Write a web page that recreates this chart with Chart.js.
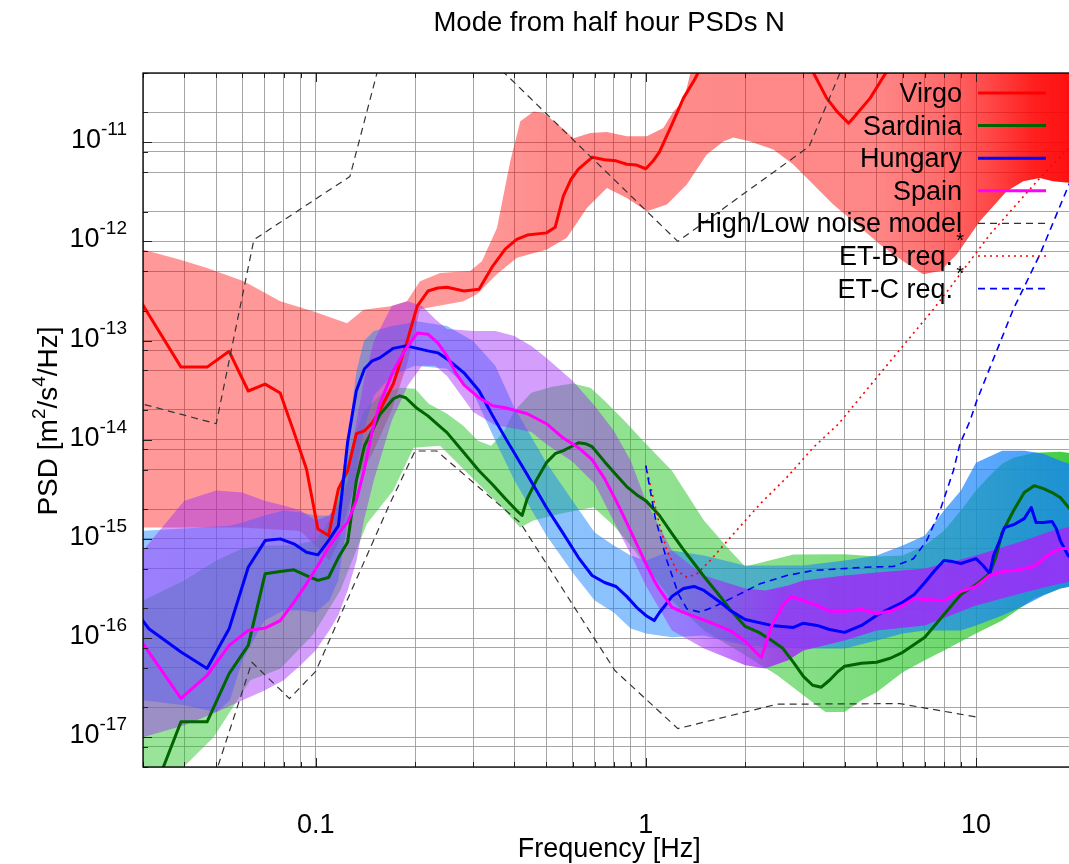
<!DOCTYPE html>
<html>
<head>
<meta charset="utf-8">
<title>Mode from half hour PSDs N</title>
<script src="https://cdn.jsdelivr.net/npm/chart.js@4.4.0/dist/chart.umd.min.js"></script>
<style>
  html, body { margin: 0; padding: 0; background: #ffffff; overflow: hidden; }
  #wrap { width: 1085px; height: 864px; }
</style>
</head>
<body>
<div id="wrap"><canvas id="psd" width="1085" height="864"></canvas></div>
<script>
// ---- axis ranges and tick labels ----
const X_MIN = 0.03, X_MAX = 20;
const Y_MIN = 5e-18, Y_MAX = 5e-11;
const xTickLabels = [0.1, 1, 10];
const yTickPowers = [-17, -16, -15, -14, -13, -12, -11];
const yGridMantissas = [1, 2, 5, 8];

// ---- Virgo ----
const virgoFreq = [0.0234, 0.03125, 0.0391, 0.0469, 0.0547, 0.0625, 0.0703, 0.0781, 0.0859, 0.0938, 0.1016, 0.1094, 0.1172, 0.125, 0.1328, 0.1406, 0.1484, 0.1563, 0.1719, 0.1875, 0.2031, 0.2188, 0.2344, 0.25, 0.2813, 0.3125, 0.3438, 0.375, 0.4063, 0.4375, 0.5, 0.5313, 0.5625, 0.5938, 0.625, 0.6875, 0.75, 0.8125, 0.875, 0.9375, 1.0, 1.05, 1.1, 1.2, 1.3, 1.4, 1.5, 1.8, 2.5, 3.22, 3.53, 3.79, 4.11, 4.25, 4.78, 5.3, 6.0, 10, 20];
const virgoMode = [8.8e-13, 1.82e-13, 5.4e-14, 5.4e-14, 7.8e-14, 3.1e-14, 3.64e-14, 2.96e-14, 1.2e-14, 5.07e-15, 1.26e-15, 1.08e-15, 3.19e-15, 4.87e-15, 1.15e-14, 1.23e-14, 1.48e-14, 1.96e-14, 3.67e-14, 8.84e-14, 2.23e-13, 3.16e-13, 3.39e-13, 3.45e-13, 3.16e-13, 3.3e-13, 5.64e-13, 8.36e-13, 1.05e-12, 1.16e-12, 1.22e-12, 1.39e-12, 2.86e-12, 4.24e-12, 5.35e-12, 7.06e-12, 6.67e-12, 6.5e-12, 6.01e-12, 5.9e-12, 5.41e-12, 6.43e-12, 8.0e-12, 1.52e-11, 2.79e-11, 4.2e-11, 6.5e-11, 1.0e-10, 1.2e-10, 5.0e-11, 2.79e-11, 2.05e-11, 1.56e-11, 1.76e-11, 2.79e-11, 4.86e-11, 8e-11, 1.5e-10, 1.5e-10];
const virgoHighFreq = [0.028, 0.0301, 0.0389, 0.0469, 0.0606, 0.0781, 0.0987, 0.1245, 0.1396, 0.1686, 0.1889, 0.207, 0.2383, 0.2937, 0.3188, 0.3541, 0.3885, 0.4168, 0.4573, 0.4904, 0.5502, 0.6037, 0.6784, 0.7619, 0.8759, 1.007, 1.13, 1.212, 1.3, 1.362, 1.5, 2, 20];
const virgoHigh = [8.5e-13, 8.24e-13, 6.53e-13, 5.39e-13, 3.96e-13, 2.49e-13, 1.97e-13, 1.5e-13, 2.05e-13, 2.22e-13, 2.49e-13, 3.96e-13, 4.8e-13, 5.02e-13, 6.33e-13, 1.37e-12, 6.43e-12, 1.63e-11, 2.05e-11, 1.97e-11, 1.45e-11, 1.1e-11, 1.24e-11, 1.27e-11, 1.15e-11, 1.15e-11, 1.39e-11, 2.05e-11, 2.59e-11, 4.86e-11, 7e-11, 8e-11, 8e-11];
const virgoLowFreq = [0.028, 0.06, 0.09, 0.102, 0.11, 0.117, 0.125, 0.133, 0.148, 0.17, 0.19, 0.207, 0.2805, 0.3078, 0.3538, 0.4071, 0.5017, 0.5764, 0.6631, 0.7624, 0.876, 1.007, 1.158, 1.331, 1.529, 1.717, 1.842, 2.069, 2.434, 2.797, 3.215, 3.695, 4.35, 5.12, 6.02, 6.92, 7.79, 8.74, 10.27, 12.38, 13.9, 15.6, 17.1, 19.1, 20];
const virgoLow = [1.3e-15, 1.3e-15, 1.2e-15, 8e-16, 6e-16, 9e-16, 2e-15, 4e-15, 7e-15, 2e-14, 6e-14, 2.07e-13, 2.49e-13, 2.93e-13, 4.66e-13, 6.84e-13, 8.31e-13, 1.09e-12, 2.18e-12, 3.46e-12, 2.75e-12, 2.02e-12, 2.36e-12, 3.75e-12, 7.52e-12, 1.02e-11, 1.12e-11, 1.02e-11, 8.44e-12, 5.96e-12, 3.75e-12, 2.36e-12, 1.49e-12, 9.33e-13, 6.33e-13, 4.66e-13, 5.02e-13, 7.4e-13, 1.6e-12, 3.21e-12, 4.05e-12, 4.37e-12, 4.05e-12, 3.9e-12, 3.9e-12];

// ---- Sardinia ----
const sardiniaFreq = [0.03125, 0.0391, 0.0469, 0.0547, 0.0625, 0.0703, 0.0781, 0.0859, 0.0938, 0.1016, 0.1094, 0.1172, 0.125, 0.1328, 0.1406, 0.1484, 0.1563, 0.1719, 0.1797, 0.1875, 0.2031, 0.2188, 0.2344, 0.25, 0.2813, 0.3125, 0.3438, 0.375, 0.4063, 0.4219, 0.4375, 0.4688, 0.5, 0.5313, 0.5625, 0.5938, 0.625, 0.6563, 0.6875, 0.75, 0.8125, 0.875, 0.9375, 1.0, 1.1, 1.2, 1.3, 1.4, 1.5, 1.7, 1.8, 2.0, 2.2, 2.4, 2.6, 2.8, 3.0, 3.2, 3.4, 3.6, 3.8, 4.0, 4.5, 5.0, 5.5, 6.0, 7.0, 8.0, 9.0, 10, 11, 11.5, 12, 13, 14, 15, 16, 17, 18, 19, 20];
const sardiniaMode = [2.1e-18, 1.43e-17, 1.43e-17, 4.38e-17, 8.44e-17, 4.44e-16, 4.69e-16, 4.87e-16, 4.27e-16, 3.81e-16, 4.08e-16, 6.48e-16, 9.24e-16, 3.87e-15, 8.7e-15, 1.23e-14, 1.78e-14, 2.59e-14, 2.77e-14, 2.65e-14, 2.06e-14, 1.74e-14, 1.42e-14, 1.18e-14, 7.4e-15, 4.87e-15, 3.52e-15, 2.55e-15, 1.93e-15, 1.72e-15, 2.55e-15, 4.05e-15, 5.87e-15, 7.23e-15, 7.75e-15, 8.5e-15, 9.33e-15, 9.11e-15, 8.5e-15, 6.01e-15, 4.44e-15, 3.37e-15, 2.79e-15, 2.43e-15, 1.72e-15, 1.13e-15, 7.8e-16, 5.64e-16, 4.17e-16, 2.5e-16, 1.94e-16, 1.31e-16, 1.14e-16, 9.48e-17, 7.87e-17, 5.69e-17, 4.11e-17, 3.34e-17, 3.19e-17, 3.75e-17, 4.52e-17, 5.19e-17, 5.56e-17, 5.69e-17, 6.25e-17, 7.18e-17, 1.02e-16, 1.73e-16, 2.75e-16, 3.46e-16, 4.47e-16, 6.63e-16, 1.16e-15, 1.93e-15, 2.93e-15, 3.44e-15, 3.21e-15, 2.93e-15, 2.61e-15, 2.11e-15, 1.72e-15];
const sardiniaHighFreq = [0.028, 0.03, 0.04, 0.05, 0.06, 0.07, 0.08, 0.09, 0.1, 0.11, 0.12, 0.13, 0.14, 0.16, 0.18, 0.2, 0.22, 0.25, 0.28, 0.31, 0.34, 0.37, 0.4, 0.45, 0.52, 0.6, 0.68, 0.75, 0.85, 1.0, 1.2, 1.5, 1.8, 2.0, 2.3, 2.8, 4, 5, 6, 7, 8, 9, 10, 11, 12, 13, 15, 18, 20];
const sardiniaHigh = [2.29e-16, 2.39e-16, 3.81e-16, 6.05e-16, 7.99e-16, 8.56e-16, 8.56e-16, 8.97e-16, 9.61e-16, 1.53e-15, 3.87e-15, 9.77e-15, 1.96e-14, 2.98e-14, 3.34e-14, 3.26e-14, 2.3e-14, 1.83e-14, 1.38e-14, 9.77e-15, 8.7e-15, 1.18e-14, 1.96e-14, 2.98e-14, 3.42e-14, 3.69e-14, 3.34e-14, 2.47e-14, 1.63e-14, 9.11e-15, 4.87e-15, 1.53e-15, 7.62e-16, 5.27e-16, 5.91e-16, 6.95e-16, 7.0e-16, 6.63e-16, 6.79e-16, 8.56e-16, 1.21e-15, 1.93e-15, 3.07e-15, 4.34e-15, 5.73e-15, 6.59e-15, 7.4e-15, 7.57e-15, 7.23e-15];
const sardiniaLowFreq = [0.028, 0.035, 0.0399, 0.0491, 0.0634, 0.0781, 0.0986, 0.1187, 0.143, 0.1718, 0.198, 0.238, 0.2938, 0.362, 0.4163, 0.4567, 0.55, 0.694, 0.8, 0.9, 1.0, 1.2, 1.5, 2.0, 2.5, 3.0, 3.5, 4.0, 4.5, 5, 6, 7, 8, 10, 12, 15, 18, 20];
const sardiniaLow = [7.25e-19, 3.21e-18, 5.02e-18, 1.0e-17, 3.74e-17, 4.91e-17, 1.1e-16, 3.02e-16, 1.42e-15, 3.07e-15, 8.31e-15, 8.7e-15, 4.34e-15, 2.17e-15, 1.3e-15, 1.53e-15, 1.79e-15, 2.09e-15, 1.36e-15, 8.56e-16, 5.39e-16, 2.39e-16, 1.19e-16, 6.69e-17, 4.2e-17, 2.64e-17, 1.79e-17, 1.79e-17, 2.35e-17, 2.83e-17, 4.51e-17, 5.95e-17, 7.5e-17, 1.11e-16, 1.5e-16, 2.5e-16, 3.16e-16, 3.39e-16];

// ---- Hungary ----
const hungaryFreq = [0.0234, 0.03125, 0.0391, 0.0469, 0.0547, 0.0625, 0.0703, 0.0781, 0.0859, 0.0938, 0.1016, 0.1094, 0.1172, 0.125, 0.1328, 0.1406, 0.1484, 0.1563, 0.1719, 0.1875, 0.2031, 0.2188, 0.2344, 0.25, 0.2813, 0.3125, 0.3438, 0.375, 0.4375, 0.5, 0.5625, 0.625, 0.6875, 0.75, 0.8125, 0.875, 0.9375, 1.0, 1.06, 1.1, 1.15, 1.2, 1.3, 1.4, 1.5, 1.7, 1.8, 2.0, 2.4, 2.8, 3.0, 3.3, 3.6, 4.0, 4.5, 5.0, 5.5, 6.0, 6.5, 7.0, 7.5, 8.0, 8.5, 9.0, 10, 10.5, 11, 11.3, 11.8, 12.2, 13, 14, 14.7, 15.2, 16, 17, 17.5, 18, 19, 20];
const hungaryMode = [4.4e-16, 1.24e-16, 7.23e-17, 4.93e-17, 1.24e-16, 5.18e-16, 9.61e-16, 1.0e-15, 8.91e-16, 7.33e-16, 6.9e-16, 9.61e-16, 1.36e-15, 9.5e-15, 3.12e-14, 5.19e-14, 6.25e-14, 6.69e-14, 8.35e-14, 8.84e-14, 8.35e-14, 7.87e-14, 7.52e-14, 6.54e-14, 4.73e-14, 3.12e-14, 1.74e-14, 1.05e-14, 4.44e-15, 2.07e-15, 1.13e-15, 6.48e-16, 4.27e-16, 3.63e-16, 3.31e-16, 2.63e-16, 2.04e-16, 1.69e-16, 1.5e-16, 1.81e-16, 2.18e-16, 2.63e-16, 3.16e-16, 3.31e-16, 3.02e-16, 2.23e-16, 1.9e-16, 1.54e-16, 1.34e-16, 1.28e-16, 1.41e-16, 1.34e-16, 1.22e-16, 1.14e-16, 1.34e-16, 1.69e-16, 1.99e-16, 2.29e-16, 2.75e-16, 3.63e-16, 4.8e-16, 6.05e-16, 5.9e-16, 5.64e-16, 6.33e-16, 5.39e-16, 4.47e-16, 6.79e-16, 9.61e-16, 1.3e-15, 1.39e-15, 1.6e-15, 2.07e-15, 1.46e-15, 1.46e-15, 1.5e-15, 1.27e-15, 9.61e-16, 6.79e-16, 6.05e-16];
const hungaryBandFreq = [0.028, 0.03, 0.04, 0.05, 0.055, 0.06, 0.07, 0.08, 0.09, 0.1, 0.11, 0.117, 0.125, 0.133, 0.14, 0.15, 0.17, 0.19, 0.2, 0.25, 0.3, 0.35, 0.4, 0.5, 0.6, 0.7, 0.8, 0.9, 1.0, 1.2, 1.5, 2, 3, 4, 5, 6, 7, 8, 9, 10, 12, 14, 16, 18, 20];
const hungaryHigh = [1.21e-15, 1.21e-15, 1.27e-15, 1.33e-15, 1.36e-15, 1.46e-15, 1.72e-15, 1.93e-15, 1.84e-15, 1.72e-15, 1.72e-15, 2.43e-15, 9.77e-15, 4.95e-14, 9.9e-14, 1.25e-13, 1.4e-13, 1.5e-13, 1.58e-13, 1.4e-13, 9.9e-14, 5.56e-14, 2.1e-14, 5.87e-15, 2.43e-15, 1.16e-15, 8.56e-16, 6.79e-16, 6.05e-16, 7.62e-16, 6.79e-16, 5.39e-16, 5.39e-16, 6.05e-16, 6.79e-16, 8.56e-16, 1.08e-15, 1.93e-15, 3.07e-15, 5.87e-15, 7.75e-15, 7.75e-15, 7.23e-15, 6.15e-15, 5.47e-15];
const hungaryLow = [2.35e-17, 2.35e-17, 2.1e-17, 1.78e-17, 2.35e-17, 5.95e-17, 1.5e-16, 1.9e-16, 1.9e-16, 1.81e-16, 2.39e-16, 3.81e-16, 1.53e-15, 4.87e-15, 1.23e-14, 2.77e-14, 4.41e-14, 5.19e-14, 5.56e-14, 5.19e-14, 2.98e-14, 9.77e-15, 3.87e-15, 1.08e-15, 4.58e-16, 2.39e-16, 1.81e-16, 1.25e-16, 1.11e-16, 1.02e-16, 1.06e-16, 8.42e-17, 7.86e-17, 7.86e-17, 9.46e-17, 1.11e-16, 1.19e-16, 1.19e-16, 1.19e-16, 1.34e-16, 1.69e-16, 2.13e-16, 2.69e-16, 3.16e-16, 3.39e-16];

// ---- Spain ----
const spainFreq = [0.0234, 0.03125, 0.0391, 0.0469, 0.0547, 0.0625, 0.0703, 0.0781, 0.0859, 0.0938, 0.1016, 0.1094, 0.1172, 0.125, 0.1328, 0.1406, 0.1484, 0.1563, 0.1719, 0.1875, 0.2031, 0.2188, 0.2344, 0.25, 0.2656, 0.2813, 0.3125, 0.3438, 0.375, 0.4375, 0.5, 0.5625, 0.625, 0.6875, 0.75, 0.8125, 0.875, 0.9375, 1.0, 1.06, 1.1, 1.2, 1.3, 1.4, 1.6, 1.8, 2.0, 2.2, 2.24, 2.4, 2.6, 2.75, 3.0, 3.3, 3.6, 4.0, 4.5, 5.0, 5.5, 6.0, 6.5, 7.0, 8.0, 9.0, 10, 11, 12, 13, 14, 15, 16, 17, 18, 20];
const spainMode = [3.0e-16, 7.2e-17, 2.46e-17, 4.21e-17, 8.44e-17, 1.19e-16, 1.26e-16, 1.5e-16, 2.29e-16, 3.52e-16, 5.39e-16, 8.23e-16, 1.13e-15, 1.47e-15, 2.43e-15, 5.11e-15, 1.23e-14, 2.3e-14, 4.95e-14, 8.25e-14, 1.19e-13, 1.16e-13, 9.48e-14, 7.01e-14, 4.73e-14, 3.58e-14, 2.65e-14, 2.2e-14, 2.1e-14, 1.83e-14, 1.45e-14, 1.04e-14, 8.31e-15, 6.29e-15, 4.05e-15, 2.43e-15, 1.46e-15, 8.97e-16, 5.64e-16, 3.81e-16, 3.09e-16, 2.04e-16, 1.81e-16, 1.65e-16, 1.4e-16, 1.19e-16, 9.26e-17, 6.69e-17, 6.39e-17, 1.31e-16, 2.13e-16, 2.62e-16, 2.39e-16, 2.13e-16, 1.86e-16, 1.86e-16, 1.94e-16, 1.77e-16, 1.86e-16, 2.13e-16, 2.5e-16, 2.45e-16, 2.39e-16, 2.95e-16, 3.31e-16, 4.27e-16, 4.69e-16, 4.8e-16, 5.03e-16, 5.27e-16, 6.33e-16, 7.28e-16, 7.99e-16, 7.99e-16];
const spainBandFreq = [0.028, 0.03, 0.04, 0.05, 0.06, 0.07, 0.08, 0.09, 0.1, 0.11, 0.117, 0.125, 0.133, 0.14, 0.15, 0.17, 0.19, 0.21, 0.23, 0.25, 0.3, 0.35, 0.4, 0.45, 0.5, 0.6, 0.7, 0.8, 0.9, 1.0, 1.2, 1.5, 2.0, 2.3, 2.7, 3, 4, 5, 7, 10, 14, 17, 20];
const spainHigh = [7.99e-16, 7.62e-16, 2.43e-15, 3.07e-15, 2.93e-15, 2.43e-15, 2.17e-15, 1.93e-15, 1.53e-15, 1.72e-15, 2.17e-15, 3.87e-15, 1.55e-14, 3.93e-14, 9.9e-14, 2.23e-13, 2.5e-13, 2.23e-13, 1.65e-13, 1.31e-13, 1.25e-13, 1.25e-13, 1.11e-13, 8.84e-14, 6.69e-14, 3.93e-14, 2.2e-14, 1.23e-14, 6.15e-15, 2.43e-15, 7.62e-16, 4.27e-16, 3.16e-16, 3.02e-16, 3.39e-16, 3.81e-16, 4.27e-16, 4.58e-16, 5.02e-16, 6.79e-16, 9.61e-16, 1.21e-15, 1.36e-15];
const spainLow = [9.77e-18, 1.0e-17, 1.32e-17, 1.78e-17, 2.35e-17, 2.96e-17, 3.74e-17, 5.3e-17, 7.5e-17, 1.19e-16, 1.69e-16, 3.02e-16, 6.05e-16, 1.53e-15, 3.87e-15, 1.55e-14, 3.5e-14, 5.56e-14, 5.56e-14, 4.4e-14, 1.9e-14, 1.4e-14, 1.3e-14, 1.2e-14, 9e-15, 6e-15, 3.6e-15, 1.5e-15, 7e-16, 3.39e-16, 1.19e-16, 7.86e-17, 5.3e-17, 4.94e-17, 5.95e-17, 7.5e-17, 9.46e-17, 1.19e-16, 1.34e-16, 2.13e-16, 2.88e-16, 3.39e-16, 3.81e-16];

// ---- Peterson high / low noise models ----
const nhnmFreq = [0.028, 0.05, 0.065, 0.127, 0.159, 0.217, 0.263, 1.25, 3.125, 4.55, 10];
const nhnm = [2.43e-14, 1.45e-14, 1.04e-12, 4.52e-12, 7.9e-11, 2.0e-10, 1.55e-10, 1.0e-12, 9.1e-12, 1.8e-10, 5e-10];
const nlnmFreq = [0.0457, 0.0641, 0.0833, 0.1, 0.1667, 0.2, 0.2326, 0.4167, 0.806, 1.25, 2.5, 5.88, 10];
const nlnm = [1.8e-18, 5.7e-17, 2.45e-17, 4.6e-17, 2.16e-15, 7.7e-15, 7.7e-15, 1.45e-15, 4.7e-17, 1.22e-17, 2.15e-17, 2.18e-17, 1.6e-17];

// ---- Einstein Telescope requirements ----
const etbFreq = [1.0, 1.092, 1.158, 1.241, 1.331, 1.427, 1.566, 1.842, 2.219, 2.673, 3.217, 3.83, 5.5, 7.43, 8.34, 11.03, 15.62, 19.12, 20];
const etb = [5.47e-15, 1.53e-15, 7.62e-16, 4.8e-16, 4.1e-16, 4.44e-16, 6.05e-16, 1.12e-15, 2.25e-15, 4.17e-15, 8.36e-15, 1.44e-14, 6.2e-14, 2.07e-13, 3.41e-13, 1.18e-12, 4.37e-12, 8.76e-12, 1.02e-11];
const etcFreq = [1.0, 1.067, 1.158, 1.255, 1.331, 1.46, 1.603, 1.842, 2.219, 2.673, 3.217, 3.875, 4.67, 5.62, 6.46, 7.09, 7.78, 8.54, 8.94, 9.59, 10.05, 12.97, 15.62, 19.12, 20];
const etc = [5.47e-15, 1.65e-15, 6.05e-16, 2.79e-16, 1.97e-16, 1.82e-16, 2.05e-16, 2.58e-16, 3.52e-16, 4.27e-16, 4.8e-16, 4.99e-16, 5.18e-16, 5.27e-16, 6.29e-16, 9.61e-16, 1.93e-15, 4.87e-15, 9.05e-15, 1.55e-14, 2.47e-14, 2.07e-13, 7.4e-13, 3.75e-12, 5.36e-12];

// ---------------------------------------------------------------
const FONT = "'Liberation Sans', Arial, Helvetica, sans-serif";
const pts = (fs, vs) => fs.map((f, i) => ({ x: f, y: vs[i] }));

// Band fill that gets denser towards high frequencies (many overlapping thin slices there)
function bandFill(rgb, stops) {
  return (ctx) => {
    const chart = ctx.chart;
    const xs = chart.scales && chart.scales.x;
    if (!chart.chartArea || !xs) return `rgba(${rgb},${stops[0][1]})`;
    const g = chart.ctx.createLinearGradient(xs.left, 0, xs.right, 0);
    for (const [f, a] of stops) {
      const t = (xs.getPixelForValue(f) - xs.left) / (xs.right - xs.left);
      g.addColorStop(Math.min(1, Math.max(0, t)), `rgba(${rgb},${a})`);
    }
    return g;
  };
}

// Percentile range as one closed outline: upper edge left->right, lower edge back right->left
function band(name, hf, hv, lf, lv, fill, order) {
  return {
    label: name + ' range',
    data: pts(hf, hv).concat(pts(lf, lv).reverse()),
    borderColor: 'rgba(0,0,0,0)', borderWidth: 0,
    backgroundColor: fill, fill: 'shape', order, inLegend: false
  };
}

function curve(label, fs, vs, color, width, dash, order, inLegend, mark) {
  return { label, data: pts(fs, vs), borderColor: color, borderWidth: width, borderDash: dash,
           fill: false, order, inLegend, mark };
}

const datasets = [
  curve('Virgo', virgoFreq, virgoMode, '#ff0000', 3, [], 6, true),
  curve('Sardinia', sardiniaFreq, sardiniaMode, '#006400', 3, [], 5, true),
  curve('Hungary', hungaryFreq, hungaryMode, '#0000ff', 3, [], 4, true),
  curve('Spain', spainFreq, spainMode, '#ff00ff', 3, [], 3, true),
  curve('High/Low noise model', nhnmFreq, nhnm, '#333333', 1.2, [7, 5], 2, true),
  curve('Low noise model', nlnmFreq, nlnm, '#333333', 1.2, [7, 5], 2, false),
  curve('ET-B req.', etbFreq, etb, '#ff0000', 1.6, [2, 4], 1, true, '*'),
  curve('ET-C req.', etcFreq, etc, '#0000ff', 1.6, [7, 5], 0, true, '*'),
  band('Spain', spainBandFreq, spainHigh, spainBandFreq, spainLow,
       bandFill('160,40,250', [[0.03, 0.45], [1.3, 0.45], [2.5, 0.8], [20, 0.85]]), 7),
  band('Hungary', hungaryBandFreq, hungaryHigh, hungaryBandFreq, hungaryLow,
       bandFill('20,130,250', [[0.03, 0.45], [2, 0.5], [8, 0.65], [20, 0.8]]), 8),
  band('Sardinia', sardiniaHighFreq, sardiniaHigh, sardiniaLowFreq, sardiniaLow,
       bandFill('30,195,30', [[0.03, 0.45], [2, 0.5], [10, 0.65], [20, 0.85]]), 9),
  band('Virgo', virgoHighFreq, virgoHigh, virgoLowFreq, virgoLow,
       bandFill('255,0,0', [[0.03, 0.4], [0.3, 0.4], [0.5, 0.45], [5, 0.47], [8, 0.58], [11, 0.72], [15, 0.88], [20, 0.95]]), 10)
];

const isDecade = (v) => Math.abs(Math.log10(v) - Math.round(Math.log10(v))) < 1e-9;

// Text made of pieces, some of them raised (superscripts)
function drawRich(ctx, parts, x, y, align) {
  let w = 0;
  for (const p of parts) { ctx.font = p.font; p.w = ctx.measureText(p.t).width; w += p.w; }
  let cx = align === 'center' ? x - w / 2 : align === 'right' ? x - w : x;
  ctx.textAlign = 'left';
  for (const p of parts) { ctx.font = p.font; ctx.fillText(p.t, cx, y + (p.dy || 0)); cx += p.w; }
}

// Frame, tick marks, tick labels, titles and key
const decorations = {
  id: 'decorations',
  afterDatasetsDraw(chart) {
    const { ctx, chartArea: a, scales: { x, y } } = chart;
    ctx.save();
    ctx.strokeStyle = '#222';
    ctx.lineWidth = 1;
    ctx.beginPath();
    for (const t of x.ticks) {
      const px = Math.round(x.getPixelForValue(t.value)) + 0.5;
      const len = isDecade(t.value) ? 9 : 5;
      ctx.moveTo(px, a.bottom); ctx.lineTo(px, a.bottom - len);
      ctx.moveTo(px, a.top); ctx.lineTo(px, a.top + len);
    }
    for (const t of y.ticks) {
      const py = Math.round(y.getPixelForValue(t.value)) + 0.5;
      const len = isDecade(t.value) ? 9 : 5;
      ctx.moveTo(a.left, py); ctx.lineTo(a.left + len, py);
    }
    ctx.stroke();
    ctx.strokeStyle = '#000';
    ctx.lineWidth = 1.3;
    ctx.strokeRect(a.left, a.top, a.right - a.left, a.bottom - a.top);
    ctx.restore();
  },
  afterDraw(chart) {
    const { ctx, scales: { x, y } } = chart;
    ctx.save();
    ctx.fillStyle = '#000';
    ctx.textBaseline = 'alphabetic';

    // y tick labels: 10^n
    for (const p of yTickPowers) {
      const py = y.getPixelForValue(Math.pow(10, p));
      drawRich(ctx, [
        { t: '10', font: `27px ${FONT}` },
        { t: String(p), font: `19px ${FONT}`, dy: -13 }
      ], 127, py + 6, 'right');
    }

    // x tick labels
    ctx.font = `27px ${FONT}`;
    ctx.textAlign = 'center';
    for (const v of xTickLabels) {
      ctx.fillText(String(v), x.getPixelForValue(v), 833);
    }

    // axis titles and chart title
    const cx = (x.getPixelForValue(X_MIN) + x.getPixelForValue(X_MAX)) / 2;
    ctx.fillText('Frequency [Hz]', cx, 857);
    ctx.font = `27.5px ${FONT}`;
    ctx.fillText('Mode from half hour PSDs N', cx, 31);

    ctx.save();
    ctx.translate(57, 421);
    ctx.rotate(-Math.PI / 2);
    drawRich(ctx, [
      { t: 'PSD [m', font: `28px ${FONT}` },
      { t: '2', font: `19px ${FONT}`, dy: -12 },
      { t: '/s', font: `28px ${FONT}` },
      { t: '4', font: `19px ${FONT}`, dy: -12 },
      { t: '/Hz]', font: `28px ${FONT}` }
    ], 0, 0, 'center');
    ctx.restore();

    // key
    const items = chart.data.datasets.filter(d => d.inLegend);
    items.forEach((d, i) => {
      const yc = 93 + i * 32.6;
      ctx.textAlign = 'right';
      let right = 962;
      if (d.mark) {
        ctx.font = `20px ${FONT}`;
        ctx.fillText(d.mark, 964, yc - 9);
        right = 953;
      }
      ctx.font = `27px ${FONT}`;
      ctx.fillText(d.label, right, yc + 9);
      ctx.save();
      ctx.strokeStyle = d.borderColor;
      ctx.lineWidth = d.borderWidth;
      ctx.setLineDash(d.borderDash || []);
      ctx.beginPath();
      ctx.moveTo(978, yc); ctx.lineTo(1046, yc);
      ctx.stroke();
      ctx.restore();
    });
    ctx.restore();
  }
};

new Chart(document.getElementById('psd'), {
  type: 'line',
  data: { datasets },
  options: {
    responsive: false,
    animation: false,
    devicePixelRatio: 1,
    layout: { padding: { left: 143, top: 73, right: 9.6, bottom: 97 } },
    plugins: { legend: { display: false }, tooltip: { enabled: false }, title: { display: false } },
    elements: {
      point: { radius: 0, hoverRadius: 0 },
      line: { tension: 0, borderJoinStyle: 'round', borderCapStyle: 'butt' }
    },
    scales: {
      x: {
        type: 'logarithmic', min: X_MIN, max: X_MAX,
        afterBuildTicks: (axis) => {
          const t = [];
          for (let e = -2; e <= 1; e++) for (let m = 1; m <= 9; m++) {
            const v = Number((m * Math.pow(10, e)).toPrecision(3));
            if (v >= X_MIN && v <= X_MAX) t.push({ value: v });
          }
          axis.ticks = t;
        },
        ticks: { display: false },
        grid: { drawTicks: false, color: 'rgba(150,150,150,0.85)', lineWidth: 1 },
        border: { display: false }
      },
      y: {
        type: 'logarithmic', min: Y_MIN, max: Y_MAX,
        afterBuildTicks: (axis) => {
          const t = [];
          for (let e = -18; e <= -11; e++) for (const m of yGridMantissas) {
            const v = Number((m * Math.pow(10, e)).toPrecision(3));
            if (v >= Y_MIN && v <= Y_MAX) t.push({ value: v });
          }
          axis.ticks = t;
        },
        ticks: { display: false },
        grid: { drawTicks: false, color: 'rgba(150,150,150,0.85)', lineWidth: 1 },
        border: { display: false }
      }
    }
  },
  plugins: [decorations]
});
</script>
</body>
</html>
